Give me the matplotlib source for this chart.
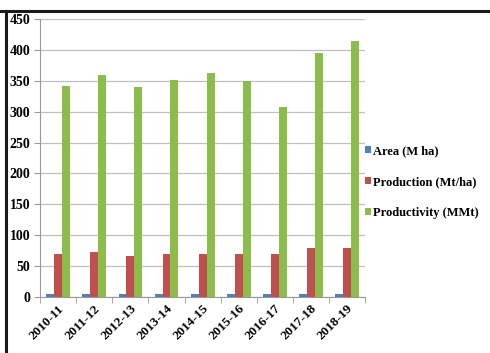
import numpy as np
import matplotlib.pyplot as plt
from matplotlib.lines import Line2D

plt.rcParams['font.family'] = ['Liberation Serif', 'DejaVu Serif']
plt.rcParams['font.weight'] = 'bold'

years = ["2010-11", "2011-12", "2012-13", "2013-14", "2014-15",
         "2015-16", "2016-17", "2017-18", "2018-19"]
area = [4, 4, 4, 4, 4, 4, 4, 4, 5]
production = [70, 72, 67, 70, 70, 70, 70, 79, 79]
productivity = [342, 360, 340, 352, 362, 349, 307, 395, 415]

series = [
    ("Area (M ha)", area, "#4f81bd"),
    ("Production (Mt/ha)", production, "#c0504d"),
    ("Productivity (MMt)", productivity, "#8cbc4c"),
]

fig = plt.figure(figsize=(4.9, 3.53), dpi=100)
ax = fig.add_axes([0.082, 0.159, 0.663, 0.787])

x = np.arange(len(years))
w = 0.22
for i, (name, vals, col) in enumerate(series):
    ax.bar(x + (i - 1) * w, vals, w, color=col, label=name, zorder=3)

ax.set_xlim(-0.5, len(years) - 0.5)
ax.set_ylim(0, 450)
ax.set_yticks(range(0, 451, 50))
ax.grid(axis='y', color='#c0c0c0', linewidth=0.9, zorder=0)

ax.set_xticks(x)
ax.set_xticklabels(years, rotation=45, ha='right', rotation_mode='anchor')
ax.set_xticks(np.arange(-0.5, len(years)), minor=True)
ax.tick_params(axis='x', which='major', length=0, labelsize=9.5, pad=4)
ax.tick_params(axis='x', which='minor', length=4, color='#999999')
ax.tick_params(axis='y', length=4, color='#999999', labelsize=10, pad=3)

for s in ['top', 'right']:
    ax.spines[s].set_visible(False)
for s in ['left', 'bottom']:
    ax.spines[s].set_color('#999999')

leg = ax.legend(loc='center left', bbox_to_anchor=(1.0, 0.414), frameon=False,
                fontsize=9.0, handlelength=0.45, handleheight=0.45,
                handletextpad=0.2, labelspacing=1.5, borderaxespad=0.0,
                borderpad=0.0)

# frame lines along the top and left edge
fig.add_artist(Line2D([0.0, 1.0], [0.968, 0.968], color='#1a1a1a', linewidth=2.2))
fig.add_artist(Line2D([0.013, 0.013], [0.0, 0.968], color='#1a1a1a', linewidth=2.2))

fig.savefig("out.png", dpi=100)
